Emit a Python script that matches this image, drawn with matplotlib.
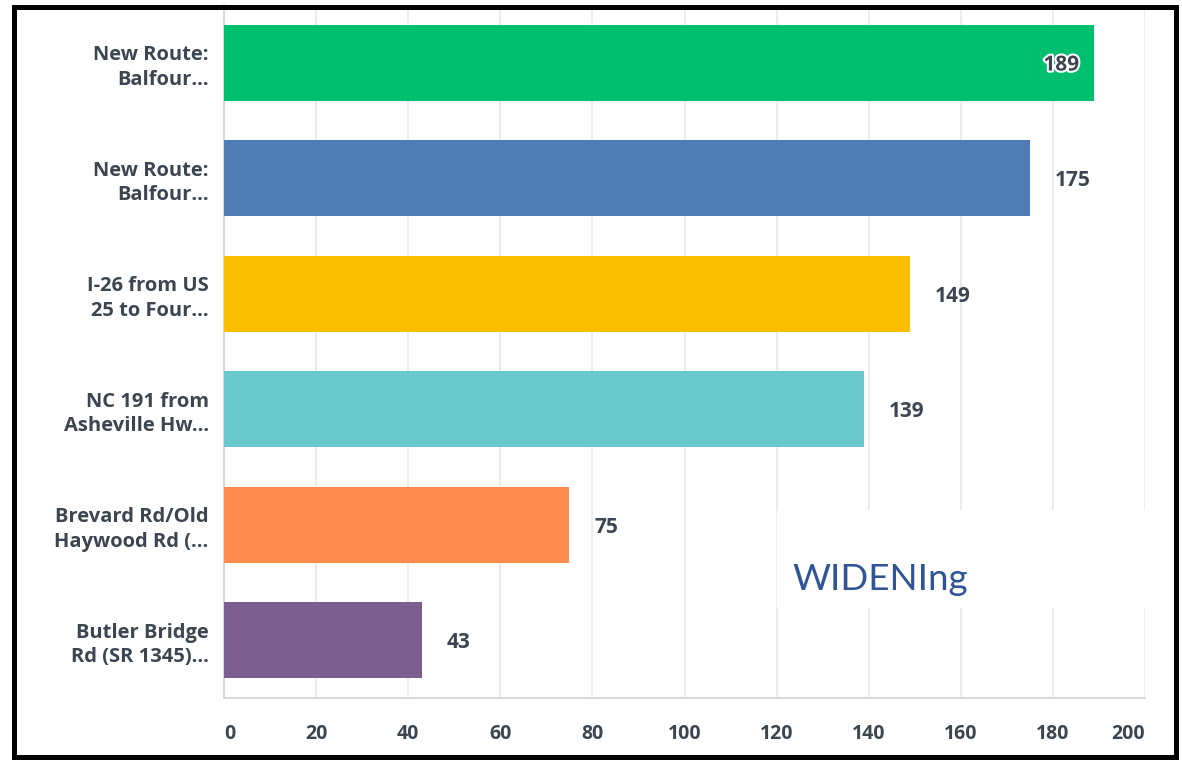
import matplotlib.pyplot as plt
import matplotlib.patheffects as pe
from matplotlib.patches import Rectangle

categories = ['New Route:\nBalfour...', 'New Route:\nBalfour...',
              'I-26 from US\n25 to Four...', 'NC 191 from\nAsheville Hw...',
              'Brevard Rd/Old\nHaywood Rd (...', 'Butler Bridge\nRd (SR 1345)...']
values = [189, 175, 149, 139, 75, 43]
colors = ['#00bf6f', '#507cb6', '#f9be00', '#6bc8cd', '#ff8b4f', '#7d5e90']
xticks = [0, 20, 40, 60, 80, 100, 120, 140, 160, 180, 200]
note = 'WIDENIng'

text_color = '#3c4550'
W, H = 1182, 761

fig = plt.figure(figsize=(W / 100, H / 100), dpi=100)
ax = fig.add_axes([224 / W, 1 - 698 / H, (1145 - 224) / W, (698 - 5) / H])

ypos = list(range(len(values)))
ax.barh(ypos, values, height=0.66, color=colors, zorder=3)
ax.set_ylim(len(values) - 0.5, -0.5)
ax.set_xlim(0, 200)

ax.set_xticks(xticks)
ax.set_xticklabels([str(t) for t in xticks])
ax.set_yticks(ypos)
ax.set_yticklabels(categories, linespacing=1.3)
ax.tick_params(axis='both', length=0, colors=text_color)
ax.tick_params(axis='y', pad=11, labelsize=14.5)
ax.tick_params(axis='x', pad=19, labelsize=14)
for lab in ax.get_yticklabels() + ax.get_xticklabels():
    lab.set_fontfamily('Open Sans')
    lab.set_fontweight('bold')
xl = ax.get_xticklabels()
xl[0].set_ha('left')
xl[-1].set_ha('right')

ax.grid(axis='x', color='#ebebeb', linewidth=1.3, zorder=0)
ax.set_axisbelow(True)
for s in ['top', 'right']:
    ax.spines[s].set_visible(False)
ax.spines['left'].set_color('#d5d5d5')
ax.spines['bottom'].set_color('#d5d5d5')
ax.spines['left'].set_linewidth(1.3)
ax.spines['bottom'].set_linewidth(1.3)

for y, v in zip(ypos, values):
    if v > 180:
        ax.text(v - 3.3, y + 0.02, str(v), ha='right', va='center', fontsize=15,
                fontfamily='Open Sans', fontweight='bold', color=text_color,
                zorder=5,
                path_effects=[pe.withStroke(linewidth=3, foreground='white')])
    else:
        ax.text(v + 5.4, y + 0.02, str(v), ha='left', va='center', fontsize=15,
                fontfamily='Open Sans', fontweight='bold', color=text_color,
                zorder=5)

# white box hiding gridlines behind the note
ax.add_patch(Rectangle((777 / W, 1 - 608 / H), (1175 - 777) / W, 98 / H,
                       transform=fig.transFigure, facecolor='white',
                       edgecolor='none', zorder=1, clip_on=False))
fig.text(792 / W, 1 - 590 / H, note, fontsize=26.5, color='#2f5597',
         fontfamily='Lato', ha='left', va='baseline')

# black frame
fig.patches.append(Rectangle((14.5 / W, 1 - 756.5 / H), 1161 / W, 750 / H,
                             transform=fig.transFigure, fill=False,
                             edgecolor='black', linewidth=3.6))

fig.savefig('out.png', dpi=100)
